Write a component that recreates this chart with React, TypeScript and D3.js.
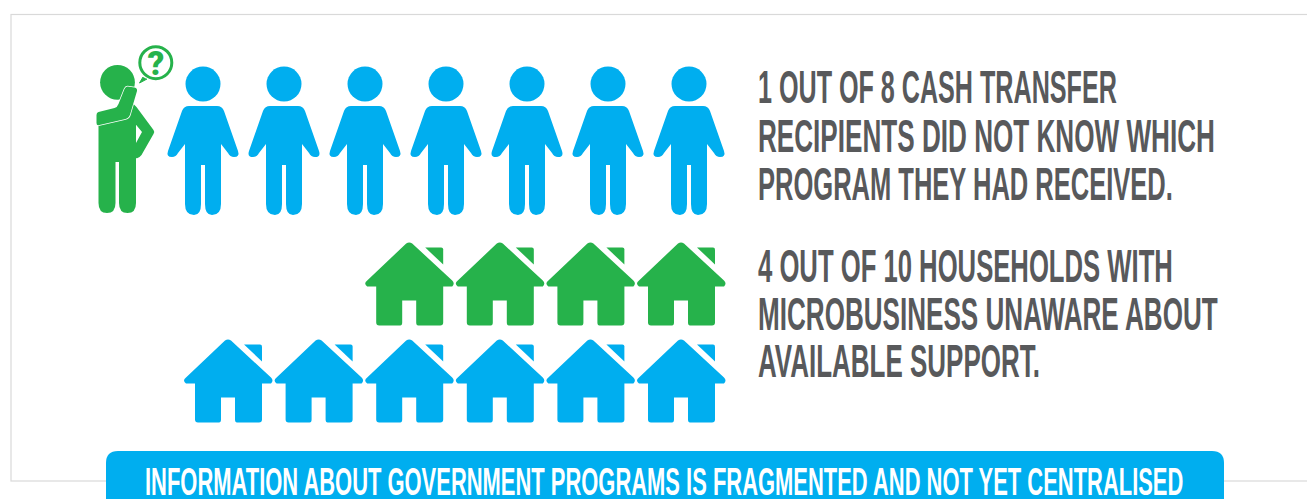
import React, { useLayoutEffect, useRef } from 'react';
import * as d3 from 'd3';

const WIDTH = 1307;
const HEIGHT = 499;

const BLUE = '#00aeef';
const GREEN = '#26b24b';
const GREY = '#58595b';

// 1 out of 8 recipients, the other 7 drawn in blue
const bluePeople = ['p2', 'p3', 'p4', 'p5', 'p6', 'p7', 'p8'];

// 10 households on two rows, both rows share the same right-aligned slots
const houseSlots = ['s1', 's2', 's3', 's4', 's5', 's6'];
const greenHouses = ['s3', 's4', 's5', 's6'];
const blueHouses = ['s1', 's2', 's3', 's4', 's5', 's6'];

const statementOne = [
  { text: '1 OUT OF 8 CASH TRANSFER', end: 1117 },
  { text: 'RECIPIENTS DID NOT KNOW WHICH', end: 1215 },
  { text: 'PROGRAM THEY HAD RECEIVED.', end: 1173 },
];
const statementTwo = [
  { text: '4 OUT OF 10 HOUSEHOLDS WITH', end: 1173 },
  { text: 'MICROBUSINESS UNAWARE ABOUT', end: 1218 },
  { text: 'AVAILABLE SUPPORT.', end: 1040 },
];
const bannerText = 'INFORMATION ABOUT GOVERNMENT PROGRAMS IS FRAGMENTED AND NOT YET CENTRALISED';

const FONT = '"Liberation Sans Narrow", "Liberation Sans", Roboto, sans-serif';

// icon outlines, origin at the horizontal centre of the icon and the top of the row
const PERSON_BODY =
  'M-14,40 L14,40 Q19,40 21,45 L35,85 Q37,91 31,91 Q27,91 25,87 L18,78 L18,138 Q18,149 9,149 Q2,149 2,138 L2,99 L-2,99 L-2,138 Q-2,149 -9,149 Q-18,149 -18,138 L-18,78 L-25,87 Q-27,91 -31,91 Q-37,91 -35,85 L-21,45 Q-19,40 -14,40 Z';
const GREEN_BODY =
  'M-19,58 L16,38 L19,41 L36,64 Q37.5,66 36,68 L24,89 Q21,93 18.5,92 L18.5,137 Q18.5,147 10,147 Q1.5,147 1.5,137 L1.5,96 L-2,96 L-2,137 Q-2,147 -10.5,147 Q-19,147 -19,137 Z M18.5,58.7 L18.5,77 L24.5,66 Z';
const GREEN_ARM =
  'M-19,46 Q-21,46.5 -21,49 L-21,57 Q-21,60 -18,59 L8,53 Q12,52 13,47 L19.5,25 Q20,22 17,21.5 L10,20.5 Q8,20.5 7,23 L1,38 Q0,41 -3,42 Z';
const HOUSE_BODY =
  'M-3,2 Q0,0 3,2 L43,39 Q46,42 43,45 L34,45 L34,81 Q34,84 31,84 L9,84 Q7,84 7,81 L7,59 L-7,59 L-7,81 Q-7,84 -9,84 L-30,84 Q-33,84 -33,81 L-33,45 L-42,45 Q-46,42 -42,39 Z';
const HOUSE_CHIMNEY = 'M16,6 L32,6 Q34,6 34,8 L34,23 Z';

const Person = ({ x }: { x: number }) => (
  <g transform={`translate(${x},66)`} fill={BLUE}>
    <circle cx={0} cy={18} r={17.5} />
    <path d={PERSON_BODY} />
  </g>
);

const House = ({ x, y, color }: { x: number; y: number; color: string }) => (
  <g transform={`translate(${x},${y})`} fill={color}>
    <path d={HOUSE_BODY} />
    <path d={HOUSE_CHIMNEY} />
  </g>
);

// no condensed display face is installed, so squeeze the text to the measured width
const FitText = ({ text, x, end, y, size, fill }: { text: string; x: number; end: number; y: number; size: number; fill: string }) => {
  const ref = useRef<SVGTextElement>(null);
  useLayoutEffect(() => {
    const node = ref.current;
    if (!node) return;
    const natural = node.getComputedTextLength();
    d3.select(node).attr('transform', `translate(${x},${y}) scale(${(end - x) / natural},1)`);
  }, [text, x, end, y]);
  return (
    <text ref={ref} transform={`translate(${x},${y})`} fontFamily={FONT} fontWeight="700" fontSize={size} fill={fill}>
      {text}
    </text>
  );
};

const Statement = ({ lines, baselines }: { lines: { text: string; end: number }[]; baselines: number[] }) => (
  <g>
    {lines.map((l, i) => (
      <FitText key={l.text} text={l.text} x={758} end={l.end} y={baselines[i]} size={46} fill={GREY} />
    ))}
  </g>
);

export default function App() {
  const peopleX = d3.scalePoint<string>().domain(bluePeople).range([203, 689]);
  const houseX = d3.scalePoint<string>().domain(houseSlots).range([228, 681]);
  const tail = d3.line()([[143, 77], [139.5, 83], [147, 79]]) as string;

  return (
    <svg
      width={WIDTH}
      height={HEIGHT}
      viewBox={`0 0 ${WIDTH} ${HEIGHT}`}
      style={{ position: 'absolute', left: 0, top: 0, background: '#fff' }}
    >
      <rect x={11} y={14.5} width={WIDTH + 20} height={466.5} fill="none" stroke="#d9d9d9" strokeWidth={1.2} />

      {/* the one recipient who did not know */}
      <g transform="translate(117.5,66)" fill={GREEN}>
        <circle cx={0} cy={16.3} r={17.4} />
        <path d={GREEN_BODY} fillRule="evenodd" />
        <path d={GREEN_ARM} stroke="#fff" strokeWidth={1.5} paintOrder="stroke" />
      </g>
      <path d={tail} fill={GREEN} stroke={GREEN} strokeWidth={1} strokeLinejoin="round" />
      <circle cx={155.8} cy={62.7} r={16} fill="#fff" stroke={GREEN} strokeWidth={3} />
      <text x={155.8} y={75} textAnchor="middle" fontFamily="Roboto, sans-serif" fontWeight="900" fontSize={33} fill={GREEN}>
        ?
      </text>

      {bluePeople.map(d => (
        <Person key={d} x={peopleX(d) as number} />
      ))}

      {greenHouses.map(d => (
        <House key={d} x={houseX(d) as number} y={241.5} color={GREEN} />
      ))}
      {blueHouses.map(d => (
        <House key={d} x={houseX(d) as number} y={338.5} color={BLUE} />
      ))}

      <Statement lines={statementOne} baselines={[103, 152, 200]} />
      <Statement lines={statementTwo} baselines={[282, 330, 377]} />

      <path d="M106,499 L106,463 Q106,451 118,451 L1212,451 Q1224,451 1224,463 L1224,499 Z" fill={BLUE} />
      <FitText text={bannerText} x={145} end={1184} y={495} size={39} fill="#fff" />
    </svg>
  );
}
